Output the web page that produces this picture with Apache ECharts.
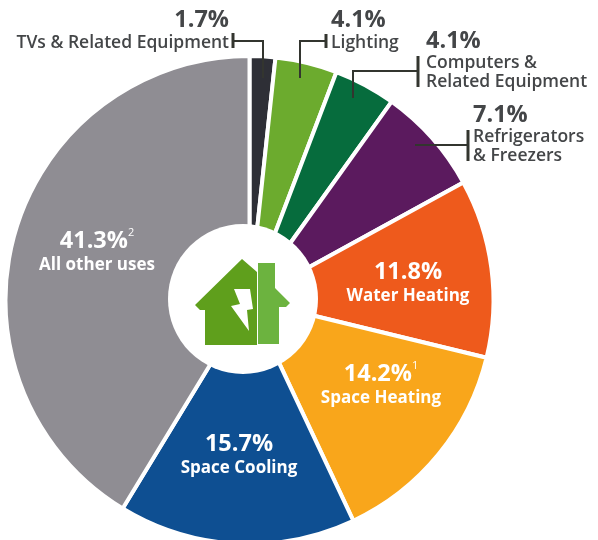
<!DOCTYPE html>
<html>
<head>
<meta charset="utf-8">
<style>html,body{margin:0;padding:0;background:#fff}#chart{width:598px;height:540px}</style>
<script src="https://cdn.jsdelivr.net/npm/echarts@6/dist/echarts.min.js"></script>
</head>
<body>
<div id="chart"></div>
<script>
// Household electricity use by end use, percent of total
const categories = ['TVs & Related Equipment', 'Lighting', 'Computers &\nRelated Equipment', 'Refrigerators\n& Freezers', 'Water Heating', 'Space Heating', 'Space Cooling', 'All other uses'];
const shares = [1.7, 4.1, 4.1, 7.1, 11.8, 14.2, 15.7, 41.3];
const footnotes = ['', '', '', '', '', '1', '', '2'];
const colors = ['#2e2f36', '#6cab2e', '#066c3d', '#5b1a5e', '#ee5a1c', '#f9a61b', '#0e4f92', '#8f8d93'];

const FONT = '"Open Sans", sans-serif';
const INK = '#444648';

// Where each label sits: x, y, text alignment, and whether it is on a slice
const spots = [
  { x: 229, y: 30, align: 'right' },
  { x: 331, y: 30, align: 'left' },
  { x: 426, y: 60, align: 'left' },
  { x: 473, y: 134, align: 'left' },
  { x: 408, y: 282, align: 'center', inside: true },
  { x: 381, y: 384, align: 'center', inside: true },
  { x: 239, y: 454, align: 'center', inside: true },
  { x: 97, y: 251, align: 'center', inside: true }
];

const seriesData = categories.map((name, i) => {
  const inside = spots[i].inside;
  const mark = footnotes[i] ? '{s|' + footnotes[i] + '}' : '';
  const tag = inside ? 'n' : 'o';
  const lines = name.split('\n').map(t => '{' + tag + '|' + t + '}').join('\n');
  return {
    name,
    value: shares[i],
    itemStyle: { color: colors[i] },
    label: {
      show: true,
      position: 'inside',
      align: spots[i].align,
      verticalAlign: 'middle',
      formatter: '{' + (inside ? 'v' : 'p') + '|' + shares[i].toFixed(1) + '%}' + mark + '\n' + lines,
      rich: {
        v: { fontFamily: FONT, fontSize: 23.5, fontWeight: 700, color: '#fff', lineHeight: 28, align: spots[i].align },
        p: { fontFamily: FONT, fontSize: 23.5, fontWeight: 700, color: INK, lineHeight: 26, align: spots[i].align },
        s: { fontFamily: FONT, fontSize: 11, color: '#fff', verticalAlign: 'top', lineHeight: 28, align: spots[i].align },
        n: { fontFamily: FONT, fontSize: 17, fontWeight: 700, color: '#fff', lineHeight: 20, align: spots[i].align },
        o: { fontFamily: FONT, fontSize: 17.5, fontWeight: 600, color: INK, lineHeight: 19, align: spots[i].align }
      }
    }
  };
});

// Leader line with an end bar next to its label
function leader(points, bar) {
  return [
    { type: 'polyline', z: 10, shape: { points }, style: { stroke: '#33352f', lineWidth: 2, fill: null } },
    { type: 'line', z: 10, shape: { x1: bar[0], y1: bar[1], x2: bar[0], y2: bar[2] }, style: { stroke: '#33352f', lineWidth: 3 } }
  ];
}

const chart = echarts.init(document.getElementById('chart'), null, { renderer: 'canvas' });
chart.setOption({
  animation: false,
  backgroundColor: '#ffffff',
  series: [{
    type: 'pie',
    center: [249.5, 300],
    radius: [60, 244],
    startAngle: 90,
    clockwise: true,
    avoidLabelOverlap: false,
    labelLine: { show: false },
    itemStyle: { borderColor: '#ffffff', borderWidth: 4 },
    emphasis: { disabled: true },
    data: seriesData,
    labelLayout: params => {
      const s = spots[params.dataIndex];
      return { x: s.x, y: s.y, align: s.align, verticalAlign: 'middle' };
    }
  }],
  graphic: [
    // White disc that forms the hole of the ring, sitting a little left of the centre
    { type: 'circle', z: 5, shape: { cx: 243, cy: 299, r: 75 }, style: { fill: '#ffffff' } },
    ...leader([[233, 41], [263, 41], [263, 78]], [233, 33, 48]),
    ...leader([[326, 41], [300, 41], [300, 78]], [326, 34, 48]),
    ...leader([[418, 71], [353, 71], [353, 98]], [418, 56, 87]),
    ...leader([[468, 145], [415, 145]], [468, 130, 161]),
    // House icon
    { type: 'polygon', z: 11, shape: { points: [[242, 259], [257, 272], [257, 345], [205, 345], [205, 310], [200, 310], [195, 305]] }, style: { fill: '#5f9f1c' } },
    { type: 'polygon', z: 11, shape: { points: [[258, 263], [275, 263], [275, 288], [290, 303], [286, 307], [279, 307], [279, 344], [258, 344]] }, style: { fill: '#6cb33f' } },
    { type: 'polygon', z: 12, shape: { points: [[234, 289], [250, 289], [253, 309], [247, 310], [249, 331], [231, 306], [240, 304]] }, style: { fill: '#ffffff' } }
  ]
});
</script>
</body>
</html>
